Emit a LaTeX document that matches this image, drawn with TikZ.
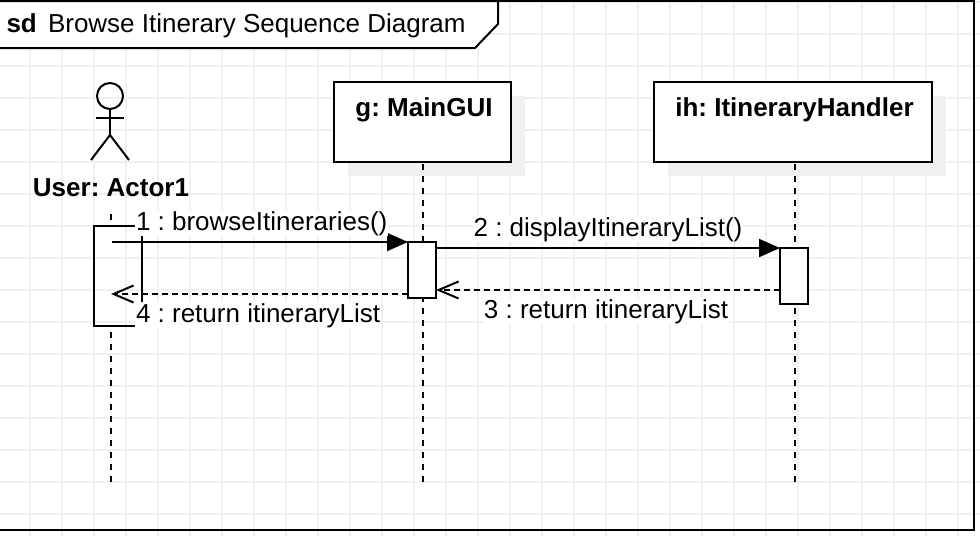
\documentclass[tikz,border=0pt]{standalone}
\usepackage{fontspec}
\setmainfont{Liberation Sans}
\usetikzlibrary{arrows.meta,positioning,calc}
\frenchspacing

\definecolor{gridline}{HTML}{F0F0F0}

\begin{document}
\begin{tikzpicture}[x=1pt,y=-1pt,line width=2pt,
  every node/.style={align=center,font=\fontsize{26}{30}\selectfont},
  lifebox/.style={draw,fill=white,outer sep=0pt,inner ysep=2pt,text height=32pt,text depth=44pt,
    font=\fontsize{26}{30}\selectfont\bfseries,execute at begin node=\hspace*{3pt}},
  execbox/.style={draw,fill=white,outer sep=0pt,minimum width=28pt,inner sep=0pt},
  shadowbox/.style={fill=gridline,draw=none},
  msglabel/.style={fill=white,inner sep=1pt},
  lifeline/.style={dash pattern=on 6pt off 6pt},
  call/.style={-{Triangle[length=21pt,width=18pt]}},
  reply/.style={dash pattern=on 6pt off 4pt,-{Straight Barb[length=20pt,width=17pt]}}]

    \useasboundingbox (0,0) rectangle (980,536);

    % background grid
    \foreach \gx in {30,62,...,990} {\draw[gridline,line width=2pt] (\gx,0) -- (\gx,536);}
    \foreach \gy in {2,34,...,530} {\draw[gridline,line width=2pt] (0,\gy) -- (980,\gy);}

    % frame
    \coordinate (frameTL) at (-2,1);
    \coordinate (frameBR) at (974,530);
    \draw (frameTL) rectangle (frameBR);
    \coordinate (tabA) at (-2,48);
    \coordinate (tabB) at (475,48);
    \coordinate (tabC) at (498,24);
    \coordinate (tabD) at (498,1);
    \draw[fill=white] (frameTL) -- (tabA) -- (tabB) -- (tabC) -- (tabD) -- cycle;
    \node[anchor=base west,inner sep=0pt,font=\fontsize{26}{30}\selectfont\bfseries] (sd) at (5.5,32) {sd};
    \node[anchor=base west,inner sep=0pt] (title) at (47,32) {Browse Itinerary Sequence Diagram};

    % actor
    \node[draw,circle,minimum size=26pt,inner sep=0pt] (head) at (110,96) {};
    \coordinate (hip) at (110,135);
    \draw (head) -- (hip);
    \coordinate (armL) at (96,118);
    \coordinate (armR) at (124,118);
    \coordinate (legL) at (91,160);
    \coordinate (legR) at (129,160);
    \draw (armL) -- (armR);
    \draw (legL) -- (hip) -- (legR);
    \node[font=\fontsize{26}{30}\selectfont\bfseries] (user) at (111,188) {User: Actor1};

    % shadows
    \fill[shadowbox] (348,96) rectangle (525,176);
    \fill[shadowbox] (668,96) rectangle (946,176);

    % lifelines
    \node[lifebox,minimum width=177pt,anchor=north west] (gui) at (334,82) {g: MainGUI};
    \node[lifebox,minimum width=278pt,anchor=north west] (ih) at (654,82) {ih: ItineraryHandler};
    \coordinate (userTop) at (111,214);
    \coordinate (userMid) at (111,220);
    \coordinate (userLow) at (111,332);
    \coordinate (userEnd) at (111,482);
    \coordinate (guiTop) at (423,164);
    \coordinate (guiEnd) at (423,482);
    \coordinate (ihTop) at (795,164);
    \coordinate (ihEnd) at (795,482);
    \draw[lifeline] (userTop) -- (userMid);
    \draw[lifeline] (userLow) -- (userEnd);
    \draw[lifeline] (guiTop) -- (guiEnd);
    \draw[lifeline] (ihTop) -- (ihEnd);

    % execution boxes
    \node[execbox,fill=none,minimum width=48pt,minimum height=100pt,anchor=north west] (userExec) at (94,226) {};
    \node[execbox,minimum height=56pt,anchor=north west] (guiExec) at (408,242) {};
    \node[execbox,minimum height=56pt,anchor=north west] (ihExec) at (780,248) {};

    % messages
    \coordinate (m1a) at (112,242);
    \coordinate (m4b) at (111,294);
    \draw[call] (m1a) -- (guiExec.north west);
    \draw[call] (guiExec.east |- ihExec.north) -- (ihExec.north west);
    \coordinate (m3a) at (780,290);
    \coordinate (m3b) at (436,290);
    \draw[reply] (m3a) -- (m3b);
    \coordinate (m4a) at (408,294);
    \draw[reply] (m4a) -- (m4b);

    \node[msglabel,anchor=base west] (m1) at (134,230) {1 : browseItineraries()};
    \node[msglabel,anchor=base] (m2) at (608,236) {2 : displayItineraryList()};
    \node[msglabel,anchor=base] (m3) at (606,318) {3 : return itineraryList};
    \node[msglabel,anchor=base west] (m4) at (134,322) {4 : return itineraryList};
\end{tikzpicture}
\end{document}
